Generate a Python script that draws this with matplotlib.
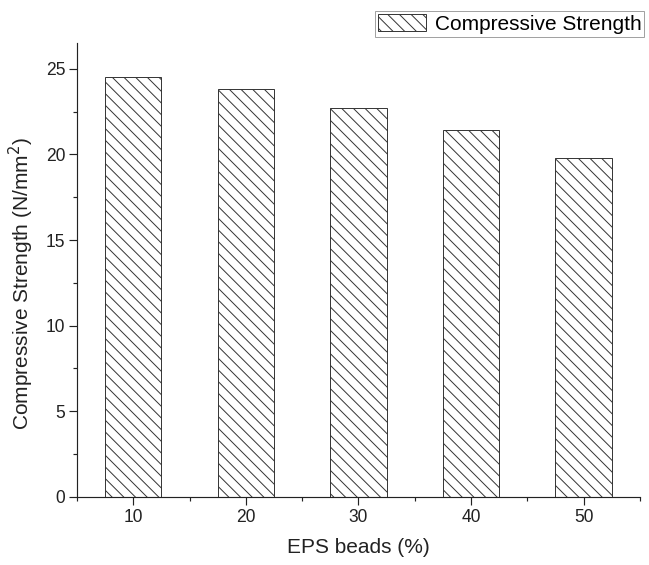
import matplotlib
matplotlib.use("Agg")
import matplotlib.pyplot as plt
from matplotlib.ticker import MultipleLocator

# data
eps_beads = [10, 20, 30, 40, 50]
strength = [24.5, 23.8, 22.7, 21.4, 19.8]

plt.rcParams['font.family'] = ['Liberation Sans', 'DejaVu Sans']
plt.rcParams['hatch.linewidth'] = 1.0
plt.rcParams['hatch.color'] = '#333333'

dpi = 70
fig = plt.figure(figsize=(649 / dpi, 565 / dpi), dpi=dpi)
ax = fig.add_axes([0.1186, 0.1204, 0.8674, 0.8035])

bars = ax.bar(eps_beads, strength, width=5, color='white', edgecolor='#333333',
              linewidth=1.0, hatch='\\\\', label='Compressive Strength')

ax.set_xlim(5, 55)
ax.set_ylim(0, 26.5)
ax.xaxis.set_major_locator(MultipleLocator(10))
ax.xaxis.set_minor_locator(MultipleLocator(5))
ax.yaxis.set_major_locator(MultipleLocator(5))
ax.yaxis.set_minor_locator(MultipleLocator(2.5))

ax.spines['top'].set_visible(False)
ax.spines['right'].set_visible(False)
for s in ['left', 'bottom']:
    ax.spines[s].set_linewidth(1.2)
    ax.spines[s].set_color('#222222')

ax.tick_params(which='major', direction='out', length=8, width=1.2, labelsize=18,
               colors='#222222', pad=4)
ax.tick_params(which='minor', direction='out', length=4, width=1.2, colors='#222222')

ax.set_xlabel('EPS beads (%)', fontsize=21.5, color='#222222', labelpad=13)
ax.set_ylabel('Compressive Strength (N/mm$^2$)', fontsize=21.5, color='#222222')
ax.yaxis.set_label_coords(-0.072, 0.47)

fig.legend(handles=[bars], loc='upper right', bbox_to_anchor=(0.993, 0.981),
           fontsize=21.5, frameon=True, fancybox=False, edgecolor='#888888',
           handlelength=2.3, handleheight=0.9, handletextpad=0.4,
           borderpad=0.15, borderaxespad=0)

fig.savefig('out.png', dpi=dpi)
